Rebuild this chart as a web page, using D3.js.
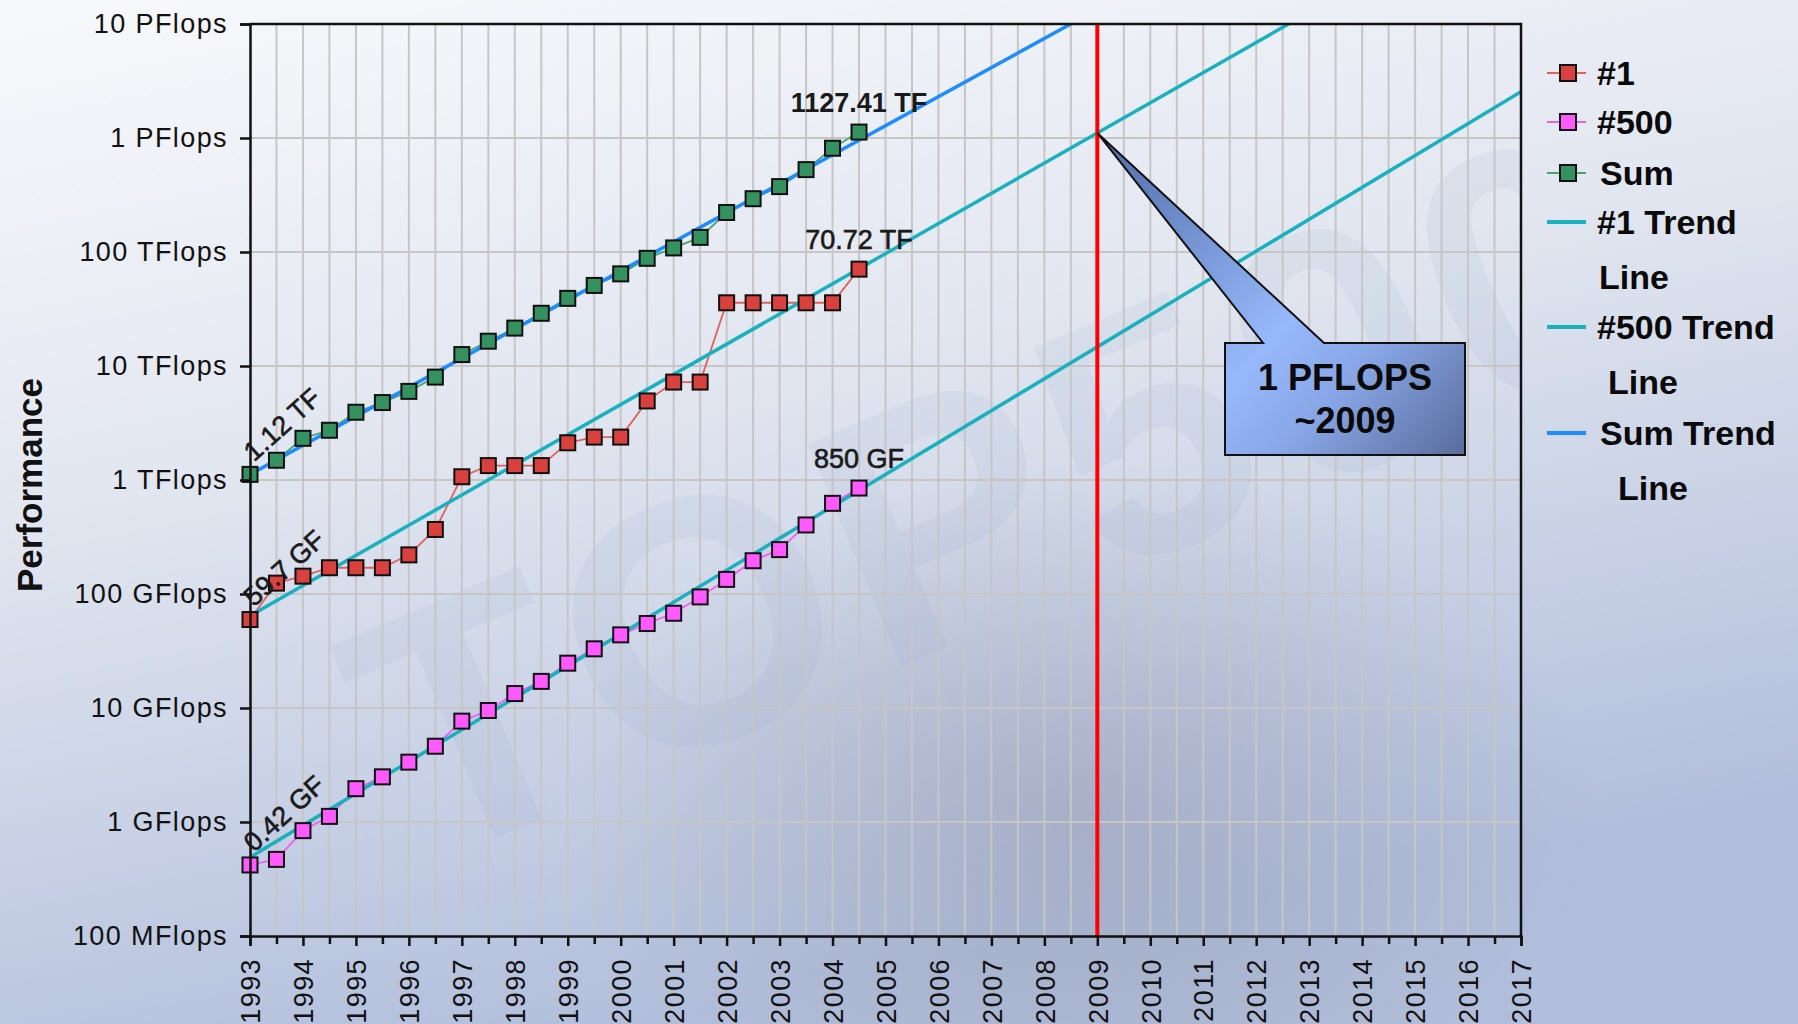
<!DOCTYPE html>
<html>
<head>
<meta charset="utf-8">
<script src="https://cdn.jsdelivr.net/npm/d3@7"></script>
<style>
  html, body { margin: 0; padding: 0; overflow: hidden; background: #eef1f7; }
  svg { display: block; }
</style>
</head>
<body>
<svg id="chart" width="1798" height="1024"></svg>
<script>
// TOP500 list dates (June and November of each year)
const listDates = [1993.0, 1993.5, 1994.0, 1994.5, 1995.0, 1995.5, 1996.0, 1996.5,
                   1997.0, 1997.5, 1998.0, 1998.5, 1999.0, 1999.5, 2000.0, 2000.5,
                   2001.0, 2001.5, 2002.0, 2002.5, 2003.0, 2003.5, 2004.0, 2004.5];

// Rmax of the #1 system, GFlops
const rank1GF = [59.7, 124.5, 143.4, 170.0, 170.0, 170.0, 220.4, 368.2,
                 1068, 1338, 1338, 1338, 2121, 2379, 2379, 4938,
                 7226, 7226, 35860, 35860, 35860, 35860, 35860, 70720];

// Rmax of the #500 system, GFlops
const rank500GF = [0.42, 0.47, 0.84, 1.12, 1.96, 2.49, 3.35, 4.62,
                   7.67, 9.51, 13.39, 17.12, 24.73, 33.05, 43.82, 55.09,
                   67.78, 94.3, 134.3, 195.8, 245.1, 403.4, 624, 850];

// Sum over all 500 systems, TFlops
const sumTF = [1.12, 1.49, 2.32, 2.73, 3.93, 4.78, 5.99, 7.99,
               12.6, 16.5, 21.5, 29.0, 39.2, 50.9, 64.3, 88.0,
               108.6, 134.4, 222.1, 293.5, 374.8, 528.0, 813.1, 1127.41];

// Exponential trend lines, GFlops at the two ends of the time axis
const trendYears = [1993, 2017];
const rank1Trend = [64.5, 1.45e8];
const rank500Trend = [0.49, 2.55e6];
const sumTrend = [1120, 1.47e9];

// Axis ticks
const yTickValues = [0.1, 1, 10, 100, 1e3, 1e4, 1e5, 1e6, 1e7];
const yTickLabels = ["100 MFlops", "1 GFlops", "10 GFlops", "100 GFlops", "1 TFlops",
                     "10 TFlops", "100 TFlops", "1 PFlops", "10 PFlops"];
const yearTicks = [1993, 1994, 1995, 1996, 1997, 1998, 1999, 2000, 2001, 2002, 2003, 2004,
                   2005, 2006, 2007, 2008, 2009, 2010, 2011, 2012, 2013, 2014, 2015, 2016, 2017];
const halfYearTicks = [1993.5, 1994.5, 1995.5, 1996.5, 1997.5, 1998.5, 1999.5, 2000.5,
                       2001.5, 2002.5, 2003.5, 2004.5, 2005.5, 2006.5, 2007.5, 2008.5,
                       2009.5, 2010.5, 2011.5, 2012.5, 2013.5, 2014.5, 2015.5, 2016.5];

// Milestone marker
const milestoneYear = 2009;
const milestoneText = ["1 PFLOPS", "~2009"];

// Legend entries
const legendEntries = [
  { lines: ["#1"], kind: "marker", key: "rank1" },
  { lines: ["#500"], kind: "marker", key: "rank500" },
  { lines: ["Sum"], kind: "marker", key: "sum" },
  { lines: ["#1 Trend", "Line"], kind: "trend", key: "rank1Trend" },
  { lines: ["#500 Trend", "Line"], kind: "trend", key: "rank500Trend" },
  { lines: ["Sum Trend", "Line"], kind: "trend", key: "sumTrend" }
];

const colors = {
  rank1: { fill: "#d8413e", line: "#e0625c" },
  rank500: { fill: "#ff5aff", line: "#f05ef0" },
  sum: { fill: "#35915f", line: "#45a56f" },
  rank1Trend: "#1bb0be",
  rank500Trend: "#1bb0be",
  sumTrend: "#1e8cff"
};

const W = 1798, H = 1024;
const plot = { left: 250, right: 1521, top: 24, bottom: 936 };

const svg = d3.select("#chart");
const defs = svg.append("defs");

// ---------- background ----------
const bg = defs.append("linearGradient").attr("id", "bgGrad")
  .attr("x1", 0).attr("y1", 0).attr("x2", 0.35).attr("y2", 1);
bg.append("stop").attr("offset", 0).attr("stop-color", "#f8f9fc");
bg.append("stop").attr("offset", 0.45).attr("stop-color", "#e2e6f0");
bg.append("stop").attr("offset", 1).attr("stop-color", "#b2bfdc");

const shade = defs.append("radialGradient").attr("id", "shadeGrad")
  .attr("cx", 0.5).attr("cy", 0.5).attr("r", 0.5);
shade.append("stop").attr("offset", 0).attr("stop-color", "#8d93a8").attr("stop-opacity", 0.45);
shade.append("stop").attr("offset", 1).attr("stop-color", "#8d93a8").attr("stop-opacity", 0);

svg.append("rect").attr("width", W).attr("height", H).attr("fill", "url(#bgGrad)");
svg.append("ellipse").attr("cx", 1080).attr("cy", 820).attr("rx", 520).attr("ry", 360)
  .attr("fill", "url(#shadeGrad)");

// faint logo watermark behind the plot, kept inside the plot frame
const wmClip = defs.append("clipPath").attr("id", "wmClip");
wmClip.append("rect").attr("x", 250).attr("y", 24).attr("width", 1271).attr("height", 912);
svg.append("g").attr("clip-path", "url(#wmClip)")
  .append("text")
  .attr("transform", "translate(420,870) rotate(-23)")
  .attr("font-family", "Liberation Sans, Arial, sans-serif")
  .attr("font-weight", "bold")
  .attr("font-size", 350)
  .attr("letter-spacing", 10)
  .attr("fill", "#8fa2cc")
  .attr("fill-opacity", 0.11)
  .text("TOP500");

// ---------- scales ----------
const x = d3.scaleLinear().domain([1993, 2017]).range([plot.left, plot.right]);
const y = d3.scaleLog().domain([0.1, 1e7]).range([plot.bottom, plot.top]);

defs.append("clipPath").attr("id", "plotClip").append("rect")
  .attr("x", plot.left).attr("y", plot.top)
  .attr("width", plot.right - plot.left).attr("height", plot.bottom - plot.top);

// ---------- grid ----------
const grid = svg.append("g").attr("stroke", "#c6c6c6").attr("stroke-width", 2);
grid.selectAll("line.v").data(yearTicks.concat(halfYearTicks).filter(d => d > 1993 && d < 2017))
  .join("line").attr("class", "v")
  .attr("x1", d => x(d)).attr("x2", d => x(d))
  .attr("y1", plot.top).attr("y2", plot.bottom);
grid.selectAll("line.h").data(yTickValues.slice(1, -1))
  .join("line").attr("class", "h")
  .attr("x1", plot.left).attr("x2", plot.right)
  .attr("y1", d => y(d)).attr("y2", d => y(d));

// ---------- series ----------
const series = [
  { key: "rank1", values: rank1GF },
  { key: "rank500", values: rank500GF },
  { key: "sum", values: sumTF.map(v => v * 1000) }
];
const trends = [
  { key: "rank1Trend", values: rank1Trend },
  { key: "rank500Trend", values: rank500Trend },
  { key: "sumTrend", values: sumTrend }
];

const lineGen = d3.line().x(d => x(d[0])).y(d => y(d[1]));
const plotG = svg.append("g").attr("clip-path", "url(#plotClip)");

series.forEach(s => {
  plotG.append("path")
    .datum(listDates.map((t, i) => [t, s.values[i]]))
    .attr("d", lineGen)
    .attr("fill", "none")
    .attr("stroke", colors[s.key].line)
    .attr("stroke-width", 1.8);
});

trends.forEach(t => {
  plotG.append("path")
    .datum(trendYears.map((yr, i) => [yr, t.values[i]]))
    .attr("d", lineGen)
    .attr("fill", "none")
    .attr("stroke", colors[t.key])
    .attr("stroke-width", 3.5);
});

const mk = 15;
series.forEach(s => {
  svg.append("g").selectAll("rect")
    .data(listDates.map((t, i) => [t, s.values[i]]))
    .join("rect")
    .attr("x", d => x(d[0]) - mk / 2)
    .attr("y", d => y(d[1]) - mk / 2)
    .attr("width", mk).attr("height", mk)
    .attr("fill", colors[s.key].fill)
    .attr("stroke", "#111")
    .attr("stroke-width", 2);
});

// milestone vertical line
svg.append("line")
  .attr("x1", x(milestoneYear)).attr("x2", x(milestoneYear))
  .attr("y1", plot.top).attr("y2", plot.bottom)
  .attr("stroke", "#ff0000").attr("stroke-width", 4);

// ---------- axes ----------
const tickFont = "Liberation Sans, Arial, sans-serif";

const yAxis = svg.append("g")
  .attr("transform", `translate(${plot.left},0)`)
  .call(d3.axisLeft(y).tickValues(yTickValues)
        .tickFormat((d, i) => yTickLabels[i]).tickSize(10).tickPadding(12));
yAxis.select(".domain").attr("stroke", "#111").attr("stroke-width", 2.5);
yAxis.selectAll(".tick line").attr("stroke", "#111").attr("stroke-width", 2.5);
yAxis.selectAll(".tick text")
  .attr("font-family", tickFont).attr("font-size", 27)
  .attr("letter-spacing", 1.4).attr("fill", "#111");

const xMinor = svg.append("g")
  .attr("transform", `translate(0,${plot.bottom})`)
  .call(d3.axisBottom(x).tickValues(halfYearTicks).tickFormat("").tickSize(8));
xMinor.select(".domain").remove();
xMinor.selectAll(".tick line").attr("stroke", "#111").attr("stroke-width", 2.5);

const xAxis = svg.append("g")
  .attr("transform", `translate(0,${plot.bottom})`)
  .call(d3.axisBottom(x).tickValues(yearTicks).tickFormat(d3.format("d")).tickSize(10));
xAxis.select(".domain").attr("stroke", "#111").attr("stroke-width", 2.5);
xAxis.selectAll(".tick line").attr("stroke", "#111").attr("stroke-width", 2.5);
xAxis.selectAll(".tick text")
  .attr("font-family", tickFont).attr("font-size", 27)
  .attr("letter-spacing", 1.4).attr("fill", "#111")
  .attr("text-anchor", "end")
  .attr("transform", "translate(0,22) rotate(-90)")
  .attr("x", 0).attr("y", 0).attr("dy", "0.36em");

// frame on top and right
svg.append("path")
  .attr("d", `M${plot.left},${plot.top}H${plot.right}V${plot.bottom}`)
  .attr("fill", "none").attr("stroke", "#111").attr("stroke-width", 2.5);

// axis title
svg.append("text")
  .attr("transform", `translate(30,${(plot.top + plot.bottom) / 2 + 5}) rotate(-90)`)
  .attr("text-anchor", "middle").attr("dy", "0.35em")
  .attr("font-family", tickFont).attr("font-weight", "bold").attr("font-size", 35)
  .attr("fill", "#111")
  .text("Performance");

// ---------- value labels ----------
function fmtGF(v) {
  if (v >= 1000) return `${+(v / 1000).toFixed(2)} TF`;
  return `${+v.toFixed(2)} GF`;
}
const n = listDates.length - 1;
const labelFont = "Liberation Sans, Arial, sans-serif";

// last-list values above the final markers
const endLabels = [
  { t: listDates[n], v: sumTF[n] * 1000, text: `${sumTF[n]} TF`, bold: true },
  { t: listDates[n], v: rank1GF[n], text: fmtGF(rank1GF[n]), bold: false },
  { t: listDates[n], v: rank500GF[n], text: fmtGF(rank500GF[n]), bold: false }
];
svg.append("g").selectAll("text").data(endLabels).join("text")
  .attr("x", d => x(d.t)).attr("y", d => y(d.v) - 20)
  .attr("text-anchor", "middle")
  .attr("font-family", labelFont)
  .attr("font-weight", d => d.bold ? "bold" : "normal")
  .attr("font-size", 27)
  .attr("fill", "#1a1a1a")
  .attr("stroke", d => d.bold ? "none" : "#1a1a1a")
  .attr("stroke-width", 0.6)
  .text(d => d.text);

// first-list values, slanted along the curves
const startLabels = [
  { t: listDates[0], v: sumTF[0] * 1000, text: `${sumTF[0]} TF` },
  { t: listDates[0], v: rank1GF[0], text: fmtGF(rank1GF[0]) },
  { t: listDates[0], v: rank500GF[0], text: fmtGF(rank500GF[0]) }
];
svg.append("g").selectAll("text").data(startLabels).join("text")
  .attr("transform", d => `translate(${x(d.t) + 4},${y(d.v) - 12}) rotate(-42)`)
  .attr("font-family", labelFont)
  .attr("font-size", 27)
  .attr("fill", "#1a1a1a")
  .attr("stroke", "#1a1a1a").attr("stroke-width", 0.6)
  .text(d => d.text);

// ---------- callout ----------
const cg = defs.append("linearGradient").attr("id", "calloutGrad")
  .attr("gradientUnits", "userSpaceOnUse")
  .attr("x1", 1100).attr("y1", 130).attr("x2", 1460).attr("y2", 460);
cg.append("stop").attr("offset", 0).attr("stop-color", "#4f6aa6");
cg.append("stop").attr("offset", 0.55).attr("stop-color", "#97b8fb");
cg.append("stop").attr("offset", 0.72).attr("stop-color", "#88a6e6");
cg.append("stop").attr("offset", 1).attr("stop-color", "#5a6c9c");

const tipX = x(milestoneYear);
const tipY = y(rank1Trend[0] * Math.pow(rank1Trend[1] / rank1Trend[0],
             (milestoneYear - trendYears[0]) / (trendYears[1] - trendYears[0])));
const box = { x0: 1225, y0: 343, x1: 1465, y1: 455 };
svg.append("path")
  .attr("d", `M${box.x0},${box.y0} L1263,${box.y0} L${tipX},${tipY} L1324,${box.y0}
              L${box.x1},${box.y0} L${box.x1},${box.y1} L${box.x0},${box.y1} Z`)
  .attr("fill", "url(#calloutGrad)")
  .attr("stroke", "#111").attr("stroke-width", 2).attr("stroke-linejoin", "miter");

svg.append("g").selectAll("text").data(milestoneText).join("text")
  .attr("x", (box.x0 + box.x1) / 2)
  .attr("y", (d, i) => 390 + i * 43)
  .attr("text-anchor", "middle")
  .attr("font-family", labelFont).attr("font-weight", "bold").attr("font-size", 36)
  .attr("fill", "#0a0a0a")
  .text(d => d);

// ---------- legend ----------
const legendY = [73, 122, 173, 222, 327, 433];
const secondLineX = [1599, 1608, 1618];
const legend = svg.append("g");
legendEntries.forEach((e, i) => {
  const cy = legendY[i];
  const g = legend.append("g");
  if (e.kind === "marker") {
    g.append("line").attr("x1", 1547).attr("x2", 1586).attr("y1", cy).attr("y2", cy)
      .attr("stroke", colors[e.key].line).attr("stroke-width", 2);
    g.append("rect").attr("x", 1568 - 8).attr("y", cy - 8).attr("width", 16).attr("height", 16)
      .attr("fill", colors[e.key].fill).attr("stroke", "#111").attr("stroke-width", 2);
  } else {
    g.append("line").attr("x1", 1547).attr("x2", 1586).attr("y1", cy).attr("y2", cy)
      .attr("stroke", colors[e.key]).attr("stroke-width", 4);
  }
  e.lines.forEach((txt, j) => {
    g.append("text")
      .attr("x", j === 0 ? (txt === "Sum" || txt === "Sum Trend" ? 1600 : 1597) : secondLineX[i - 3])
      .attr("y", cy + 12 + j * 55)
      .attr("font-family", labelFont).attr("font-weight", "bold").attr("font-size", 34)
      .attr("fill", "#0a0a0a")
      .text(txt);
  });
});
</script>
</body>
</html>
